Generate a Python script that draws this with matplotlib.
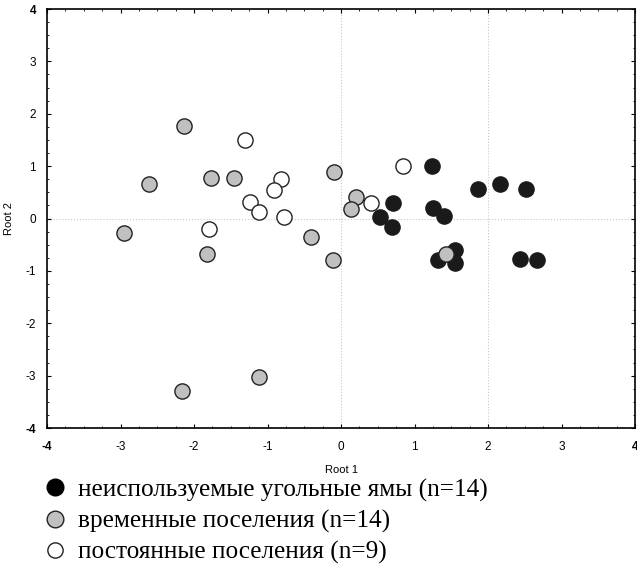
import numpy as np
import matplotlib
matplotlib.use("Agg")
import matplotlib.pyplot as plt
from matplotlib.lines import Line2D
from matplotlib.ticker import MultipleLocator

# root scores
coal_x = [1.24, 1.86, 2.16, 2.51, 0.71, 1.25, 1.40, 0.53, 0.70, 1.32, 1.55, 1.55, 2.43, 2.66]
coal_y = [1.00, 0.56, 0.65, 0.56, 0.29, 0.21, 0.04, 0.02, -0.16, -0.79, -0.61, -0.85, -0.77, -0.80]

temp_x = [-2.13, -2.61, -1.77, -1.45, -0.10, 0.21, 0.13, -2.95, -1.82, -2.16, -1.11, -0.41, -0.11, 1.43]
temp_y = [1.77, 0.65, 0.78, 0.77, 0.89, 0.42, 0.19, -0.28, -0.68, -3.29, -3.02, -0.36, -0.80, -0.68]

perm_x = [-1.30, -0.81, -0.91, -1.24, -1.11, -0.77, -1.79, 0.84, 0.41]
perm_y = [1.49, 0.75, 0.54, 0.31, 0.12, 0.03, -0.20, 1.00, 0.29]

labels = ["неиспользуемые угольные ямы (n=14)",
          "временные поселения (n=14)",
          "постоянные поселения (n=9)"]
ticks = [-4, -3, -2, -1, 0, 1, 2, 3, 4]

fig = plt.figure(figsize=(6.37, 5.67), dpi=100)
ax = fig.add_axes([0.0738, 0.2451, 0.9231, 0.739])

ax.axhline(0, color="#c8c8c8", lw=0.8, ls=":", zorder=0)
ax.axvline(0, color="#c8c8c8", lw=0.8, ls=":", zorder=0)
ax.axvline(2, color="#c8c8c8", lw=0.8, ls=":", zorder=0)

ms = 120
ax.scatter(coal_x, coal_y, s=ms, c="#1a1a1a", edgecolors="#1a1a1a", linewidths=1, zorder=3)
ax.scatter(temp_x, temp_y, s=ms, c="#c0c0c0", edgecolors="#222222", linewidths=1, zorder=4)
ax.scatter(perm_x, perm_y, s=ms, c="white", edgecolors="#222222", linewidths=1, zorder=5)

ax.set_xlim(-4, 4)
ax.set_ylim(-4, 4)
ax.set_xticks(ticks)
ax.set_yticks(ticks)
ax.xaxis.set_minor_locator(MultipleLocator(0.25))
ax.yaxis.set_minor_locator(MultipleLocator(0.25))
ax.tick_params(which="both", direction="in", top=True, right=True, labelsize=8.5)
ax.tick_params(which="major", length=3, width=0.8)
ax.tick_params(which="minor", length=1.5, width=0.6)
ax.tick_params(axis="y", pad=8)
ax.tick_params(axis="x", pad=9)
for sp in ax.spines.values():
    sp.set_linewidth(1.2)

ax.set_xticklabels([str(t) for t in ticks], family="Liberation Sans")
ax.set_yticklabels([str(t) for t in ticks], family="Liberation Sans")
for lab in [ax.get_xticklabels()[0], ax.get_xticklabels()[-1],
            ax.get_yticklabels()[0], ax.get_yticklabels()[-1]]:
    lab.set_fontweight("bold")

ax.set_xlabel("Root 1", family="Liberation Sans", fontsize=8, labelpad=9)
ax.set_ylabel("Root 2", family="Liberation Sans", fontsize=8, labelpad=8)

handles = [Line2D([], [], ls="", marker="o", ms=12, mfc="black", mec="black"),
           Line2D([], [], ls="", marker="o", ms=12, mfc="#c0c0c0", mec="#222222"),
           Line2D([], [], ls="", marker="o", ms=11, mfc="white", mec="#222222")]
fig.legend(handles, labels, loc="upper left", bbox_to_anchor=(0.0666, 0.156),
           frameon=False, prop={"family": "Liberation Serif", "size": 18.2},
           handlelength=1.0, handletextpad=0.4, labelspacing=0.32,
           borderpad=0, borderaxespad=0)

fig.savefig("out.png", dpi=100)
